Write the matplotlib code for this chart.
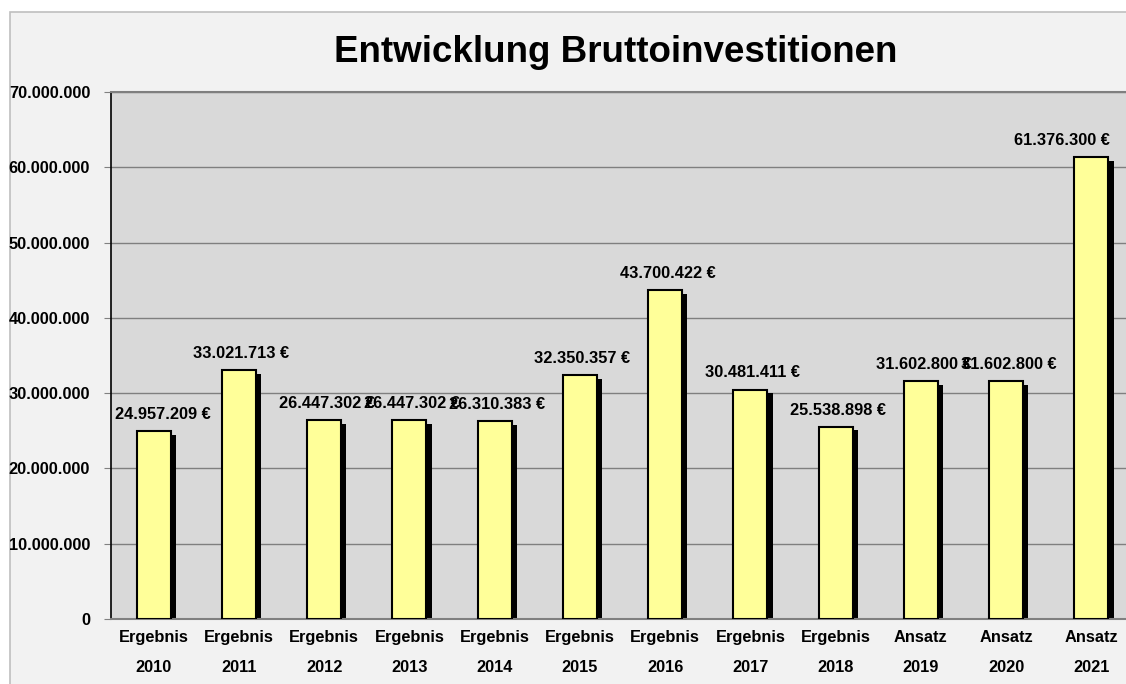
import matplotlib.pyplot as plt
from matplotlib.patches import Rectangle

plt.rcParams['font.family'] = ['Liberation Sans', 'DejaVu Sans']

# data
kind = ['Ergebnis'] * 9 + ['Ansatz'] * 3
years = ['2010', '2011', '2012', '2013', '2014', '2015', '2016', '2017', '2018', '2019', '2020', '2021']
values = [24957209, 33021713, 26447302, 26447302, 26310383, 32350357, 43700422,
          30481411, 25538898, 31602800, 31602800, 61376300]
yticks = [0, 10000000, 20000000, 30000000, 40000000, 50000000, 60000000, 70000000]


def fmt(v):
    return f'{v:,.0f}'.replace(',', '.')


fig = plt.figure(figsize=(11.26, 6.84), dpi=100, facecolor='white')
# chart area background with light border
fig.patches.append(Rectangle((10 / 1126, -0.05), 1.1, 1 - 12 / 684 + 0.05,
                             transform=fig.transFigure, facecolor='#F2F2F2',
                             edgecolor='#BFBFBF', linewidth=1.2, zorder=-10))

ax = fig.add_axes([111 / 1126, 65 / 684, 1023 / 1126, 527 / 684])
ax.set_facecolor('#D9D9D9')

x = list(range(len(values)))
# shadows
ax.bar([i + 0.06 for i in x], [v - 500000 for v in values], width=0.4,
       color='black', zorder=2)
bars = ax.bar(x, values, width=0.4, color='#FFFF99', edgecolor='black',
              linewidth=1.5, zorder=3)

labels = []
for i, v in zip(x, values):
    t = ax.annotate(fmt(v) + ' €', (i + 0.03, v), xytext=(0, 12),
                    textcoords='offset points', ha='center', va='center',
                    fontsize=11.8, fontweight='bold', zorder=5)
    labels.append(t)

ax.set_xlim(-0.5, 11.5)
ax.set_ylim(0, 70000000)
ax.set_yticks(yticks)
ax.set_yticklabels([fmt(t) for t in yticks], fontsize=11.8, fontweight='bold')
ax.set_xticks(x)
ax.set_xticklabels([k + '\n' + y for k, y in zip(kind, years)], fontsize=11.8,
                   fontweight='bold', linespacing=2.2)
ax.tick_params(axis='x', length=0, pad=8)
ax.tick_params(axis='y', length=5, color='#808080', pad=10)

ax.yaxis.grid(True, color='#7F7F7F', linewidth=1)
ax.set_axisbelow(True)
ax.spines['left'].set_color('black')
ax.spines['left'].set_linewidth(1.2)
ax.spines['bottom'].set_color('#808080')
ax.spines['bottom'].set_linewidth(1.5)
ax.spines['top'].set_color('#7F7F7F')
ax.spines['top'].set_linewidth(1.5)
ax.spines['right'].set_visible(False)

fig.text(616 / 1126, 1 - 52 / 684, 'Entwicklung Bruttoinvestitionen',
         ha='center', va='center', fontsize=26.5, fontweight='bold')

# keep value labels inside the chart area, like the spreadsheet does
fig.canvas.draw()
renderer = fig.canvas.get_renderer()
lo, hi = 115, 1110
for t in labels:
    bb = t.get_window_extent(renderer)
    shift = 0
    if bb.x0 < lo:
        shift = lo - bb.x0
    elif bb.x1 > hi:
        shift = hi - bb.x1
    if shift:
        ox, oy = t.xyann
        t.xyann = (ox + shift * 72 / fig.dpi, oy)

fig.savefig('out.png', dpi=100, facecolor=fig.get_facecolor())
